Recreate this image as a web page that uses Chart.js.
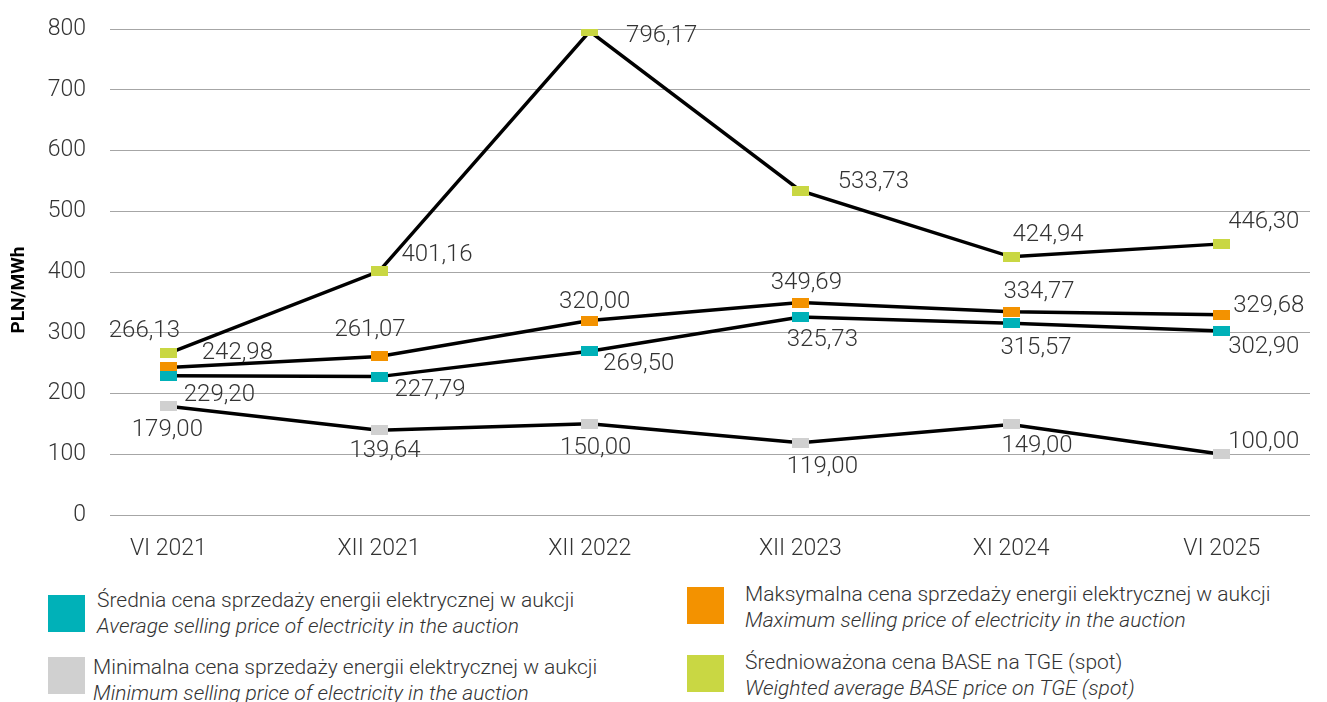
<!DOCTYPE html>
<html lang="pl">
<head>
<meta charset="utf-8">
<title>Ceny energii elektrycznej w aukcjach</title>
<script src="https://cdn.jsdelivr.net/npm/chart.js@4.4.1/dist/chart.umd.min.js"></script>
<style>
  html, body { margin: 0; padding: 0; background: #fff; }
  #wrap { position: relative; width: 1327px; height: 702px; overflow: hidden; font-family: Roboto, sans-serif; }
  #box { position: absolute; left: 0; top: 0; width: 1327px; height: 560px; }
  .sw { position: absolute; width: 37px; height: 37px; }
  .txt { position: absolute; font-weight: 300; font-size: 21px; line-height: 26px; color: #333; white-space: nowrap; }
  .txt i { display: block; }
</style>
</head>
<body>
<div id="wrap">
  <div id="box"><canvas id="myChart"></canvas></div>

  <div class="sw" style="left:48px;top:595px;background:#00b1b8"></div>
  <div class="txt" style="left:97px;top:587px">Średnia cena sprzedaży energii elektrycznej w aukcji<i>Average selling price of electricity in the auction</i></div>

  <div class="sw" style="left:48px;top:657px;background:#d0d0d0"></div>
  <div class="txt" style="left:93px;top:654px">Minimalna cena sprzedaży energii elektrycznej w aukcji<i>Minimum selling price of electricity in the auction</i></div>

  <div class="sw" style="left:687px;top:587px;background:#f39200"></div>
  <div class="txt" style="left:745px;top:581px">Maksymalna cena sprzedaży energii elektrycznej w aukcji<i>Maximum selling price of electricity in the auction</i></div>

  <div class="sw" style="left:687px;top:655px;background:#c9d743"></div>
  <div class="txt" style="left:745px;top:649px">Średnioważona cena BASE na TGE (spot)<i>Weighted average BASE price on TGE (spot)</i></div>
</div>

<script>
var categories = ['VI 2021', 'XII 2021', 'XII 2022', 'XII 2023', 'XI 2024', 'VI 2025'];
var avgPrice  = [229.20, 227.79, 269.50, 325.73, 315.57, 302.90];
var maxPrice  = [242.98, 261.07, 320.00, 349.69, 334.77, 329.68];
var minPrice  = [179.00, 139.64, 150.00, 119.00, 149.00, 100.00];
var basePrice = [266.13, 401.16, 796.17, 533.73, 424.94, 446.30];
var yTicks    = [0, 100, 200, 300, 400, 500, 600, 700, 800];
var unitLabel = 'PLN/MWh';

// where each value label sits relative to its marker
var labelOffsets = {
    min:  [[-1, 24], [6, 21], [6, 24], [22, 24], [26, 22], [42, -12]],
    avg:  [[51, 19], [51, 13], [49, 13], [22, 23], [25, 25], [42, 16]],
    max:  [[69, -14], [-9, -26], [5, -19], [6, -20], [28, -20], [47, -9]],
    base: [[-24, -22], [58, -16], [72, 5], [73, -9], [37, -22], [42, -22]]
};

function marker(color) {
    var c = document.createElement('canvas');
    c.width = 17;
    c.height = 10;
    var g = c.getContext('2d');
    g.fillStyle = color;
    g.fillRect(0, 0, 17, 10);
    return c;
}

function points(values) {
    return values.map(function(v, i) { return {x: i, y: v}; });
}

function fmt(v) {
    return v.toFixed(2).replace('.', ',');
}

function series(values, color, offsets) {
    return {
        data: points(values),
        borderColor: '#000',
        borderWidth: 3.5,
        pointStyle: marker(color),
        pointRadius: 6,
        pointHoverRadius: 6,
        tension: 0,
        labelOffsets: offsets
    };
}

var valueLabels = {
    id: 'valueLabels',
    afterDatasetsDraw: function(chart) {
        var ctx = chart.ctx;
        ctx.save();
        ctx.font = '300 24px Roboto';
        ctx.fillStyle = '#333';
        ctx.textAlign = 'center';
        ctx.textBaseline = 'middle';
        chart.data.datasets.forEach(function(ds, i) {
            chart.getDatasetMeta(i).data.forEach(function(pt, j) {
                var off = ds.labelOffsets[j];
                ctx.fillText(fmt(ds.data[j].y), pt.x + off[0], pt.y + off[1]);
            });
        });
        ctx.restore();
    }
};

// vertical unit caption left of the y ticks
var unitTitle = {
    id: 'unitTitle',
    afterDraw: function(chart) {
        var ctx = chart.ctx;
        ctx.save();
        ctx.translate(19, 290);
        ctx.rotate(-Math.PI / 2);
        ctx.font = 'bold 19px Roboto';
        ctx.fillStyle = '#000';
        ctx.textAlign = 'center';
        ctx.textBaseline = 'middle';
        ctx.fillText(unitLabel, 0, 0);
        ctx.restore();
    }
};

var ctx = document.getElementById('myChart').getContext('2d');
var myChart = new Chart(ctx, {
    type: 'line',
    data: {
        datasets: [
            series(minPrice, '#d0d0d0', labelOffsets.min),
            series(avgPrice, '#00b1b8', labelOffsets.avg),
            series(maxPrice, '#f39200', labelOffsets.max),
            series(basePrice, '#c9d743', labelOffsets.base)
        ]
    },
    options: {
        responsive: true,
        maintainAspectRatio: false,
        animation: false,
        events: [],
        layout: { padding: { top: 29, right: 17, left: 0, bottom: 0 } },
        plugins: {
            legend: { display: false },
            tooltip: { enabled: false }
        },
        scales: {
            x: {
                type: 'linear',
                min: -0.277,
                max: 5.419,
                afterBuildTicks: function(scale) {
                    scale.ticks = categories.map(function(c, i) { return {value: i}; });
                },
                afterFit: function(scale) { scale.height = 45; },
                grid: { display: false },
                border: { display: false },
                ticks: {
                    padding: 12,
                    color: '#333',
                    font: { family: 'Roboto', size: 23, weight: 300 },
                    callback: function(v) { return categories[v]; }
                }
            },
            y: {
                min: 0,
                max: 800,
                afterBuildTicks: function(scale) {
                    scale.ticks = yTicks.map(function(v) { return {value: v}; });
                },
                afterFit: function(scale) {
                    scale.width = 110;
                    scale.paddingTop = 0;
                    scale.paddingBottom = 0;
                },
                grid: { color: '#a6a6a6', lineWidth: 1, drawTicks: false },
                border: { display: false },
                ticks: {
                    padding: 24,
                    color: '#333',
                    font: { family: 'Roboto', size: 23, weight: 300 }
                }
            }
        }
    },
    plugins: [valueLabels, unitTitle]
});
</script>
</body>
</html>
